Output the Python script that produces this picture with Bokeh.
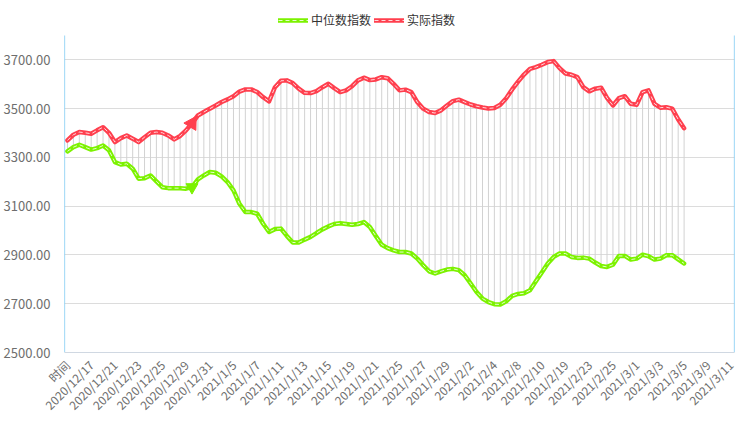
import numpy as np
from bokeh.plotting import figure
from bokeh.models import Range1d, FixedTicker, NumeralTickFormatter, Legend, LegendItem, ColumnDataSource
from bokeh.embed import file_html
from bokeh.resources import INLINE

x_labels = ["时间", "2020/12/17", "2020/12/21", "2020/12/23", "2020/12/25", "2020/12/29",
            "2020/12/31", "2021/1/5", "2021/1/7", "2021/1/11", "2021/1/13", "2021/1/15",
            "2021/1/19", "2021/1/21", "2021/1/25", "2021/1/27", "2021/1/29", "2021/2/2",
            "2021/2/4", "2021/2/8", "2021/2/10", "2021/2/19", "2021/2/23", "2021/2/25",
            "2021/3/1", "2021/3/3", "2021/3/5", "2021/3/9", "2021/3/11"]
label_step = 4
n_categories = 113

actual_index = [
    3370, 3393, 3404, 3401, 3397, 3411, 3424, 3401, 3363, 3379, 3390, 3377, 3363, 3383, 3401, 3404, 3401, 3390,
    3374, 3388, 3411, 3440, 3472, 3486, 3500, 3513, 3527, 3538, 3551, 3570, 3579, 3579, 3568, 3547, 3530, 3588,
    3614, 3616, 3605, 3582, 3565, 3564, 3572, 3588, 3602, 3584, 3568, 3575, 3592, 3616, 3627, 3617, 3620, 3629, 3625,
    3602, 3575, 3578, 3568, 3527, 3500, 3486, 3482, 3493, 3513, 3531, 3537, 3527, 3517, 3510, 3505, 3501, 3503,
    3516, 3543, 3579, 3611, 3640, 3663, 3670, 3680, 3691, 3695, 3666, 3644, 3639, 3629, 3588, 3571, 3582, 3586,
    3544, 3513, 3543, 3551, 3520, 3516, 3568, 3575, 3520, 3504, 3506, 3500, 3456, 3420]

median_index = [
    3325, 3342, 3352, 3342, 3332, 3338, 3349, 3329, 3281, 3271, 3274, 3254, 3213, 3215, 3226, 3202, 3178, 3174,
    3174, 3174, 3172, 3178, 3210, 3226, 3240, 3237, 3222, 3199, 3165, 3110, 3076, 3076, 3069, 3028, 2994, 3006,
    3008, 2978, 2951, 2951, 2963, 2974, 2990, 3005, 3017, 3027, 3030, 3027, 3024, 3027, 3035, 3015, 2978, 2942, 2928,
    2919, 2912, 2912, 2906, 2885, 2858, 2833, 2824, 2833, 2840, 2843, 2838, 2817, 2783, 2748, 2721, 2707, 2698,
    2697, 2710, 2732, 2740, 2743, 2755, 2792, 2828, 2865, 2892, 2906, 2906, 2892, 2888, 2889, 2885, 2869, 2855,
    2851, 2860, 2896, 2896, 2881, 2885, 2901, 2895, 2881, 2885, 2899, 2899, 2882, 2865]

y_ticks = [2500, 2700, 2900, 3100, 3300, 3500, 3700]
y_min, y_max = 2500, 3800
arrow_at = 21

FONT = "Noto Sans CJK SC"
RED = "#ff3f4e"
GREEN = "#7cf200"
BLUE = "#5bbcf0"

# layout: value axis occupies 35..352 px; the 35 px above it hold the legend
plot_h, top_gap, bottom_gap = 448, 35, 96
px_per_unit = (plot_h - top_gap - bottom_gap) / (y_max - y_min)
view_top = y_max + top_gap / px_per_unit

idx = list(range(len(actual_index)))
src = ColumnDataSource(dict(x=idx, red=actual_index, green=median_index))

p = figure(width=736, height=plot_h, output_backend="svg", toolbar_location=None,
           x_range=Range1d(-0.5, n_categories - 0.5), y_range=Range1d(y_min, view_top),
           min_border_left=62, min_border_right=2, min_border_top=0, min_border_bottom=bottom_gap)
p.outline_line_color = None
p.background_fill_color = "white"

# axes
p.xaxis.ticker = FixedTicker(ticks=[i * label_step for i in range(len(x_labels))])
p.xaxis.major_label_overrides = {i * label_step: lab for i, lab in enumerate(x_labels)}
p.xaxis.major_label_orientation = np.pi / 4
p.xaxis.axis_line_color = "#d0d8e2"
p.xaxis.major_tick_line_color = None
p.xaxis.minor_tick_line_color = None
p.xaxis.major_label_text_font = FONT
p.xaxis.major_label_text_font_size = "12px"
p.xaxis.major_label_text_color = "#6e6e6e"
p.xaxis.major_label_standoff = 4

p.yaxis.ticker = FixedTicker(ticks=y_ticks)
p.yaxis.formatter = NumeralTickFormatter(format="0.00")
p.yaxis.axis_line_color = None
p.yaxis.major_tick_line_color = None
p.yaxis.minor_tick_line_color = None
p.yaxis.major_label_text_font = FONT
p.yaxis.major_label_text_font_size = "13px"
p.yaxis.major_label_text_color = "#6e6e6e"
p.yaxis.major_label_standoff = 8

p.xgrid.grid_line_color = None
p.ygrid.grid_line_color = "#dcdcdc"
p.ygrid.grid_line_width = 1

# blue left / right frame lines spanning the value range
p.segment(x0=[-0.5, n_categories - 0.5], y0=[y_min, y_min], x1=[-0.5, n_categories - 0.5],
          y1=[y_max, y_max], line_color=BLUE, line_width=1.2)

# high-low connectors
p.segment(x0="x", y0="green", x1="x", y1="red", source=src, line_color="#d2d2d2", line_width=1)

g1 = p.line("x", "green", source=src, line_color=GREEN, line_width=4.5, line_join="round", line_cap="round")
g2 = p.line("x", "green", source=src, line_color="white", line_width=1, line_dash="4 3", line_alpha=0.8)
r1 = p.line("x", "red", source=src, line_color=RED, line_width=4.5, line_join="round", line_cap="round")
r2 = p.line("x", "red", source=src, line_color="white", line_width=1, line_dash="4 3", line_alpha=0.8)

# animated arrow symbols
p.scatter(x=[arrow_at], y=[actual_index[arrow_at]], marker="triangle", size=14,
          angle=-0.55, fill_color=RED, line_color=RED)
p.scatter(x=[arrow_at], y=[median_index[arrow_at]], marker="triangle", size=12,
          angle=np.pi, fill_color=GREEN, line_color=GREEN)

legend = Legend(items=[LegendItem(label="中位数指数", renderers=[g1, g2]),
                       LegendItem(label="实际指数", renderers=[r1, r2])],
                orientation="horizontal", location=(214, 324),
                label_text_font=FONT, label_text_font_size="12px", label_text_color="#333333",
                glyph_width=30, glyph_height=14, label_standoff=3, spacing=3,
                padding=0, margin=0, background_fill_alpha=0, border_line_color=None,
                label_height=14)
p.add_layout(legend)

open("out.html", "w").write(file_html(p, INLINE))
